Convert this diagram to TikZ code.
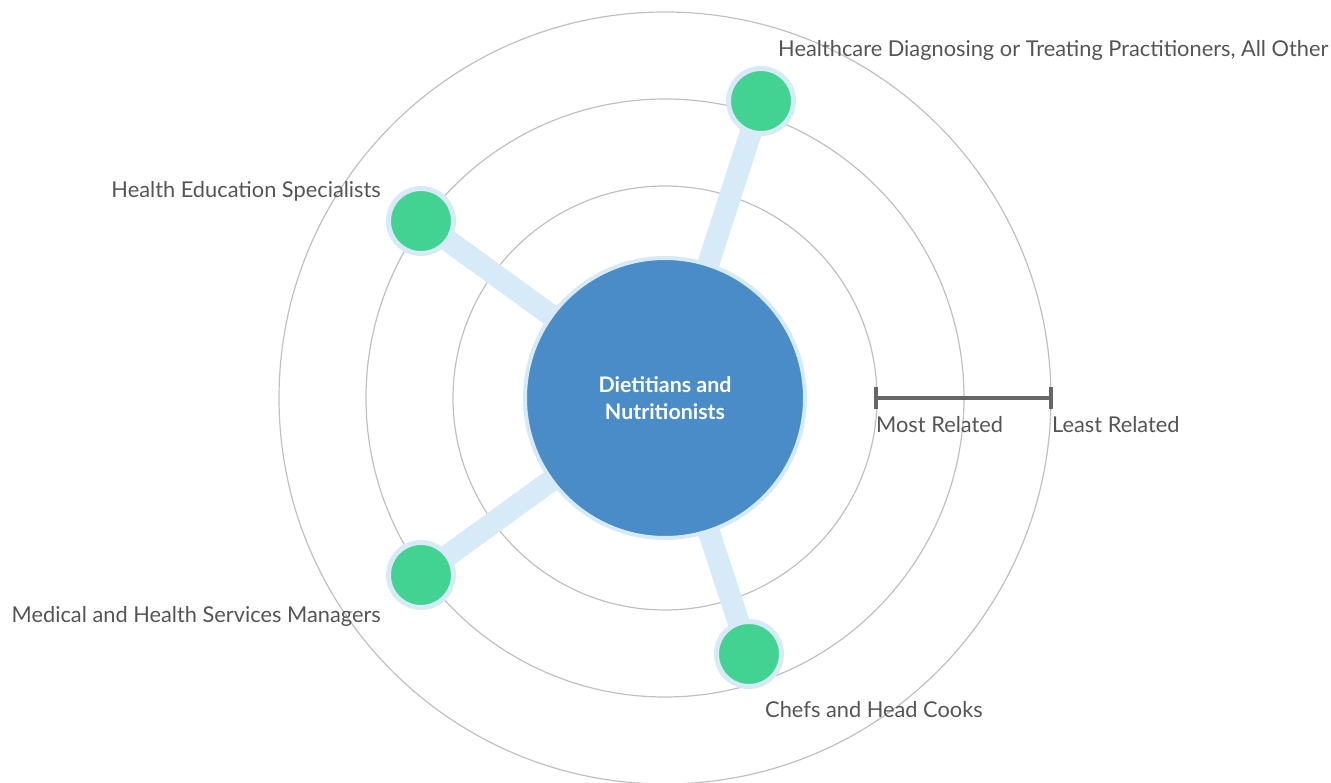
\documentclass[tikz,border=0pt]{standalone}
\usepackage{fontspec}
\setmainfont{Lato}
\definecolor{ring-gray}{RGB}{192,192,192}
\definecolor{halo-blue}{RGB}{214,234,248}
\definecolor{core-blue}{RGB}{74,140,200}
\definecolor{leaf-green}{RGB}{66,211,146}
\definecolor{label-gray}{RGB}{85,85,85}
\definecolor{bar-gray}{RGB}{102,102,102}
\usetikzlibrary{backgrounds}
\usetikzlibrary{positioning}

\begin{document}
\begin{tikzpicture}[%
            x=1pt,y=-1pt,
            ring/.style={draw=ring-gray,line width=1.2pt},
            core/.style={%
              circle,
              draw=halo-blue,
              line width=4pt,
              fill=core-blue,
              minimum size=280pt,
              inner sep=0pt,
              text=white,
              align=center,
              font=\fontsize{21.4}{26.7}\selectfont\bfseries,
            },
            leaf/.style={%
              circle,
              draw=halo-blue,
              line width=5pt,
              fill=leaf-green,
              minimum size=65pt,
              inner sep=0pt,
            },
            link/.style={draw=halo-blue,line width=22pt},
            occupation/.style={%
              text=label-gray,
              inner sep=0pt,
              font=\fontsize{21.8}{26}\selectfont,
            },
            scalebar/.style={draw=bar-gray,line width=4pt},
          ]
            \useasboundingbox (0,0) rectangle (1331,783);

            \node [core] (dietitians) at (665,398) {Dietitians and\\Nutritionists};
            \node [leaf] (healthcare) at (761,101) {};
            \node [leaf] (education) at (421,221) {};
            \node [leaf] (managers) at (421,575) {};
            \node [leaf] (chefs) at (749,654) {};

            \begin{pgfonlayer}{background}
              \foreach \r in {212,299,386}
                \draw [ring] (dietitians.center) circle (\r);
              \foreach \n in {healthcare,education,managers,chefs}
                \draw [link] (dietitians.center) -- (\n.center);
            \end{pgfonlayer}

            \node [occupation,anchor=base west] at (778,57) {Healthcare Diagnosing or Treating Practitioners, All Other};
            \node [occupation,anchor=base east] at (381,198) {Health Education Specialists};
            \node [occupation,anchor=base east] at (381,622) {Medical and Health Services Managers};
            \node [occupation,anchor=base west] at (765,717) {Chefs and Head Cooks};

            % scale of relatedness
            \coordinate (most) at (876,398);
            \coordinate (least) at (1051,398);
            \draw [scalebar] (most) -- (least);
            \draw [scalebar] ([yshift=-11pt]most) -- ([yshift=11pt]most);
            \draw [scalebar] ([yshift=-11pt]least) -- ([yshift=11pt]least);
            \node [occupation,anchor=base west] at (876,433) {Most Related};
            \node [occupation,anchor=base west] at (1052,433) {Least Related};
          \end{tikzpicture}
\end{document}
